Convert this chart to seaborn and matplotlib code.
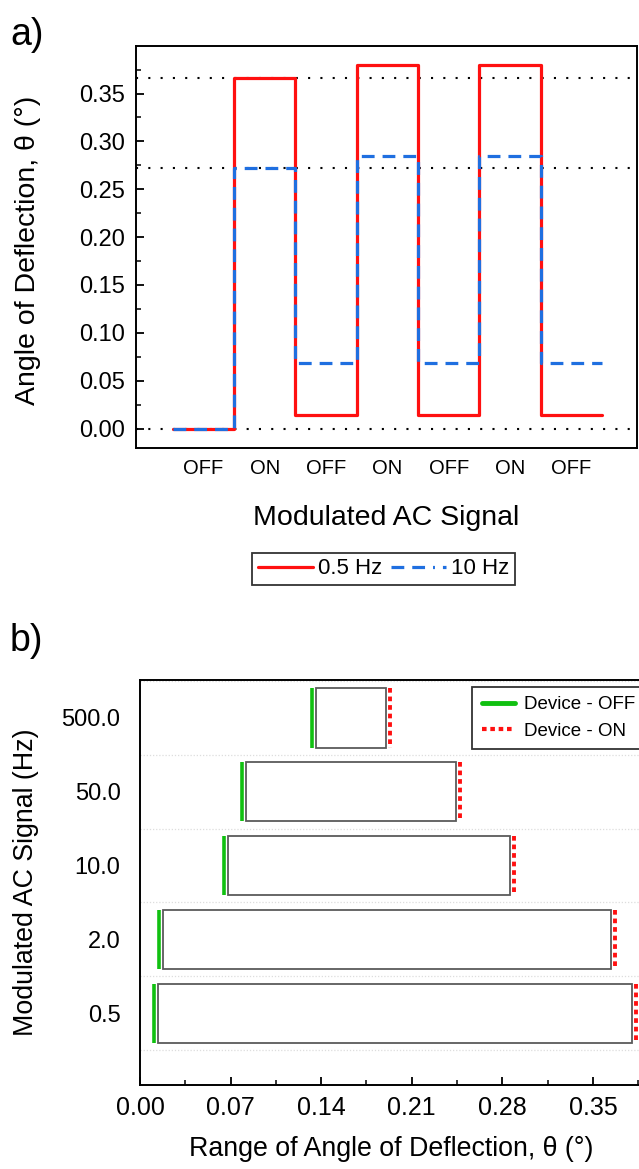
import numpy as np
import pandas as pd
import matplotlib
matplotlib.use("Agg")
import matplotlib.pyplot as plt
import seaborn as sns
from matplotlib.lines import Line2D
from matplotlib.transforms import ScaledTranslation

# ---------------- data ----------------
states = ["OFF", "ON", "OFF", "ON", "OFF", "ON", "OFF"]
angle_05hz = [0.0, 0.366, 0.0138, 0.380, 0.0138, 0.380, 0.0138]
angle_10hz = [0.0, 0.272, 0.068, 0.285, 0.068, 0.285, 0.068]
ref_levels = [0.366, 0.272, 0.0]
series_labels = ["0.5 Hz", "10 Hz"]
a_yticks = [0.00, 0.05, 0.10, 0.15, 0.20, 0.25, 0.30, 0.35]

freq_labels = ["500.0", "50.0", "10.0", "2.0", "0.5"]
theta_off = [0.136, 0.082, 0.068, 0.0175, 0.014]
theta_on = [0.190, 0.244, 0.286, 0.364, 0.380]
b_xticks = [0.00, 0.07, 0.14, 0.21, 0.28, 0.35]
b_legend = ["Device - OFF", "Device - ON"]

RED = "#ff1010"
BLUE = "#1f6fe0"
GREEN = "#10c010"

sns.set_theme(style="white")
plt.rcParams["font.family"] = ["Liberation Sans", "DejaVu Sans"]
plt.rcParams.update({
    "axes.edgecolor": "black", "axes.linewidth": 1.4,
    "text.color": "black", "axes.labelcolor": "black",
    "xtick.color": "black", "ytick.color": "black",
})

W, H = 639, 1169
fig = plt.figure(figsize=(W / 100, H / 100), dpi=100)

# ---------------- panel a ----------------
axA = fig.add_axes([136 / W, 1 - 447.7 / H, 501 / W, 402 / H])
pos = np.arange(len(states) + 1)
dfa = pd.DataFrame({
    "pos": np.concatenate([pos, pos]),
    "angle": angle_05hz + [angle_05hz[-1]] + angle_10hz + [angle_10hz[-1]],
    "series": [series_labels[0]] * len(pos) + [series_labels[1]] * len(pos),
})
for lev in ref_levels:
    axA.axhline(lev, color="black", lw=1.5, ls=(0, (1, 4.9)), zorder=1)
sns.lineplot(data=dfa[dfa.series == series_labels[0]], x="pos", y="angle",
             drawstyle="steps-post", color=RED, lw=2.3, ax=axA, legend=False, zorder=2)
sns.lineplot(data=dfa[dfa.series == series_labels[1]], x="pos", y="angle",
             drawstyle="steps-post", color=BLUE, lw=2.3, ls=(0, (4, 2.5)),
             ax=axA, legend=False, zorder=3)
axA.set_xlim(-0.6, 7.57)
axA.set_ylim(-0.02, 0.40)
axA.set_xticks(np.arange(len(states)) + 0.5, states)
axA.set_yticks(a_yticks, [f"{v:.2f}" for v in a_yticks])
axA.set_yticks(np.arange(0, 0.40, 0.025), minor=True)
axA.tick_params(axis="x", length=0, labelsize=14.5, pad=8)
axA.tick_params(axis="y", which="major", direction="in", length=6, width=1.3,
                left=True, labelsize=17, pad=8)
axA.tick_params(axis="y", which="minor", direction="in", length=3.5, width=1.1, left=True)
axA.set_xlabel("Modulated AC Signal", fontsize=20.5)
axA.xaxis.set_label_coords(0.5, -0.175)
axA.xaxis.label.set_va("center")
axA.set_ylabel("Angle of Deflection, θ (°)", fontsize=20.5)
axA.yaxis.set_label_coords(-0.215, 0.49)
axA.yaxis.label.set_va("center")
for s in axA.spines.values():
    s.set_color("black")
    s.set_linewidth(1.4)

handles_a = [Line2D([], [], color=RED, lw=2.3),
             Line2D([], [], color=BLUE, lw=2.3, ls=(0, (4, 2.5, 4, 2.5, 0.6, 2.5)))]
lga = fig.legend(handles_a, series_labels, loc="center", ncol=2,
                 bbox_to_anchor=(383.5 / W, 1 - 569 / H), fontsize=16,
                 frameon=True, fancybox=False, edgecolor="black",
                 handlelength=2.5, handletextpad=0.23, columnspacing=0.36,
                 borderpad=0.25, borderaxespad=0)
lga.get_frame().set_linewidth(1.3)

# ---------------- panel b ----------------
axB = fig.add_axes([140 / W, 1 - 1084.7 / H, 517.6 / W, 404.7 / H])
dfb = pd.DataFrame({"freq": freq_labels,
                    "span": np.subtract(theta_on, theta_off),
                    "off": theta_off})
sns.barplot(data=dfb, x="span", y="freq", order=freq_labels, orient="y",
            left=dfb["off"].to_numpy(), width=0.8, color="white",
            edgecolor="#5a5a5a", linewidth=1.3, saturation=1, ax=axB, zorder=2)
ypos = np.arange(len(freq_labels))
off_tr = axB.transData + ScaledTranslation(-0.04, 0, fig.dpi_scale_trans)
on_tr = axB.transData + ScaledTranslation(0.04, 0, fig.dpi_scale_trans)
axB.vlines(theta_off, ypos - 0.4, ypos + 0.4, colors=GREEN, lw=2.6,
           transform=off_tr, zorder=3)
axB.vlines(theta_on, ypos - 0.4, ypos + 0.4, colors=RED, lw=2.8,
           linestyles=(0, (1.2, 1.0)), transform=on_tr, zorder=3)
axB.set_xlim(0, 0.40)
axB.set_ylim(4.97, -0.515)
axB.set_xticks(b_xticks, [f"{v:.2f}" for v in b_xticks])
axB.set_xticks(np.arange(0.035, 0.40, 0.07), minor=True)
axB.set_yticks(ypos, freq_labels)
axB.set_yticks(np.arange(len(freq_labels) + 1) - 0.5, minor=True)
axB.grid(which="minor", axis="y", color="#dddddd", ls=(0, (1, 1.5)), lw=0.9, zorder=0)
axB.grid(which="major", visible=False)
axB.tick_params(axis="x", which="major", direction="in", length=6, width=1.3,
                bottom=True, labelsize=18, pad=8)
axB.tick_params(axis="x", which="minor", direction="in", length=3.5, width=1.1, bottom=True)
axB.tick_params(axis="y", which="both", length=0, labelsize=17, pad=14)
axB.set_xlabel("Range of Angle of Deflection, θ (°)", fontsize=19.3)
axB.xaxis.set_label_coords(0.485, -0.16)
axB.xaxis.label.set_va("center")
axB.set_ylabel("Modulated AC Signal (Hz)", fontsize=19.3)
axB.yaxis.set_label_coords(-0.22, 0.50)
axB.yaxis.label.set_va("center")
for s in axB.spines.values():
    s.set_color("black")
    s.set_linewidth(1.4)

handles_b = [Line2D([], [], color=GREEN, lw=3.5),
             Line2D([], [], color=RED, lw=3.0, ls=(0, (1.1, 0.9)))]
lgb = fig.legend(handles_b, b_legend, loc="upper left",
                 bbox_to_anchor=(472.3 / W, 1 - 686.7 / H), fontsize=13.5,
                 frameon=True, fancybox=False, edgecolor="black",
                 handlelength=1.8, handletextpad=0.45, borderpad=0.5,
                 labelspacing=0.5, borderaxespad=0)
lgb.get_frame().set_linewidth(1.3)

fig.text(10 / W, 1 - 35 / H, "a)", fontsize=27, va="center", ha="left")
fig.text(10 / W, 1 - 641 / H, "b)", fontsize=27, va="center", ha="left")

fig.savefig("out.png", dpi=100)
